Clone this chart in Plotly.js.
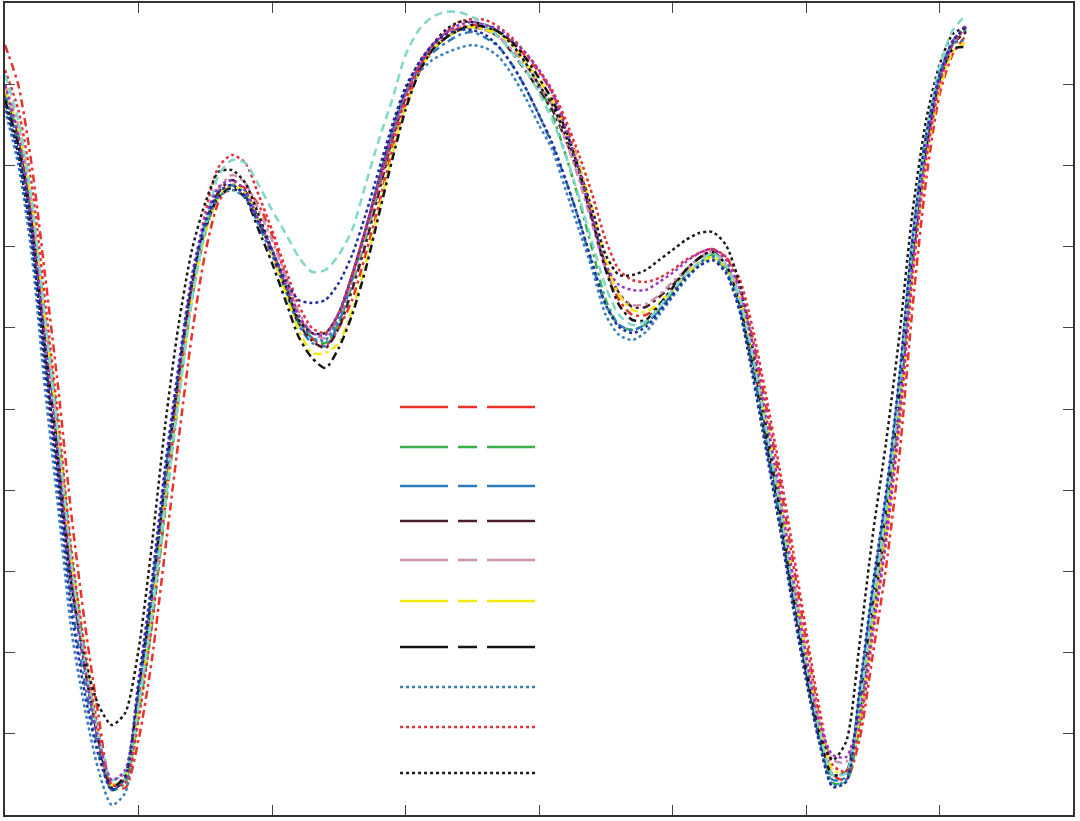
<!DOCTYPE html>
<html><head><meta charset="utf-8">
<script src="https://cdn.plot.ly/plotly-3.0.1.min.js"></script>
<style>html,body{margin:0;padding:0;background:#fff;}#chart{width:1080px;height:821px;}</style>
</head><body><div id="chart"></div>
<script>
const wavelength = [400,405,410,415,420,425,430,435,440,445,450,455,460,465,470,475,480,485,490,495,500,505,510,515,520,525,530,535,540,545,550,555,560,565,570,575,580,585,590,595,600,605,610,615,620,625,630,635,640,645,650,655,660,665,670,675,680,685,690,695,700,705,710,715,720,725,730,735,740,745,750,755,760];

const s1 = [770,730,650,540,425,297,190,100,30,27,75,155,265,375,480,562,613,630,627,610,580,540,500,477,469,487,515,560,610,665,710,742,765,777,787,790,788,783,773,759,743,722,690,650,600,547,515,500,500,510,527,545,557,565,558,529,477,410,338,255,175,97,40,35,75,160,248,360,510,635,720,761,780];
const s2 = [720,680,605,500,385,257,160,80,25,32,100,190,305,415,515,582,620,630,622,595,565,530,495,477,472,492,530,575,625,675,720,747,765,777,785,788,788,783,770,752,730,700,660,615,565,515,490,485,491,505,522,540,552,560,550,517,462,390,315,232,155,87,32,33,90,195,293,410,555,665,735,771,785];
const s3 = [720,670,585,460,340,212,130,65,25,37,125,225,340,442,535,592,623,630,619,590,560,525,490,472,469,492,535,585,635,685,723,747,762,772,780,783,777,768,750,727,700,670,635,595,550,510,490,485,491,505,522,540,552,558,545,509,447,373,298,217,142,77,35,38,115,220,313,432,575,678,740,774,788];
const s4 = [725,680,600,485,370,242,150,75,30,37,115,205,320,425,520,587,623,635,624,595,562,527,492,474,467,487,525,570,622,675,717,747,765,777,785,788,785,778,762,744,725,705,675,640,595,550,522,508,508,518,530,545,557,563,550,517,457,385,310,227,150,82,40,43,105,200,293,410,555,665,735,771,783];
const s5 = [730,690,610,495,375,247,153,80,35,42,110,200,315,420,520,587,626,640,632,605,575,540,503,482,477,497,535,580,630,680,720,750,770,782,788,788,785,778,765,750,730,710,675,635,590,545,520,510,511,520,533,545,557,563,550,522,467,395,322,242,162,94,55,53,100,195,288,405,555,665,735,771,788];
const s6 = [725,685,610,495,380,252,155,80,30,37,105,200,315,420,517,582,618,630,622,595,562,523,485,462,462,472,505,550,605,660,708,742,765,777,785,788,785,781,770,752,735,715,685,650,605,555,520,505,503,512,525,540,552,558,547,517,462,395,320,237,160,90,45,43,95,190,283,400,545,655,725,763,773];
const s7 = [715,670,590,470,355,232,145,75,27,40,125,220,335,438,530,587,618,627,617,585,552,515,478,457,447,467,500,545,600,655,705,742,765,777,785,790,788,783,773,757,737,715,685,645,595,545,510,495,495,510,527,545,557,563,550,512,449,375,300,219,145,77,40,43,115,215,308,425,565,670,735,766,768];
const s8 = [705,650,560,425,305,182,105,45,10,22,120,220,335,440,530,587,618,625,617,592,565,530,495,477,475,497,540,585,635,683,720,742,755,762,767,770,767,758,740,717,690,665,625,585,545,500,480,475,483,500,518,535,549,555,545,509,445,370,295,215,140,74,30,35,120,225,318,435,577,678,740,771,775];
const s9 = [745,705,630,515,395,262,165,85,30,32,95,190,310,425,530,602,648,660,652,620,585,547,510,487,482,502,540,585,630,675,715,747,768,782,793,796,795,788,777,762,745,725,695,660,620,575,545,535,533,537,545,555,562,566,558,537,487,420,348,267,185,107,50,43,85,180,273,390,540,655,730,771,788];
const s10 = [715,660,575,455,340,227,155,110,90,102,165,270,390,490,565,612,643,645,632,600,565,530,495,482,482,502,540,585,635,685,725,752,770,785,793,793,790,783,770,752,730,710,680,645,605,560,540,540,545,555,565,575,582,583,570,532,467,390,310,222,145,82,55,73,170,280,373,480,605,695,750,781,788];
const s11 = [740,695,615,495,375,247,150,80,35,42,110,200,310,415,515,587,640,655,652,630,605,582,558,543,545,560,585,630,675,715,760,785,798,803,803,798,790,778,762,745,722,695,660,618,572,528,500,490,494,508,525,540,553,562,550,518,460,388,312,230,152,85,40,42,110,210,305,425,570,678,748,785,800];
const s12 = [730,680,595,475,355,232,145,75,35,45,135,235,350,450,540,597,628,635,624,595,565,532,500,482,480,502,540,585,633,680,720,750,770,782,790,793,790,786,775,762,745,722,687,645,598,550,530,525,525,533,542,553,562,566,555,527,472,400,325,239,160,92,60,58,100,185,278,400,550,662,735,774,790];
const s13 = [710,660,575,445,325,202,120,60,25,37,130,230,345,445,535,592,623,630,619,592,565,535,515,512,515,532,560,600,645,690,728,752,770,780,785,785,780,768,750,727,700,672,635,595,552,510,488,482,488,503,520,537,549,555,542,505,439,365,290,209,135,72,28,33,125,230,323,440,580,680,740,774,788];

const seriesNames = ["S1","S2","S3","S4","S5","S6","S7","S8","S9","S10","S11","S12","S13"];
const seriesValues = [s1,s2,s3,s4,s5,s6,s7,s8,s9,s10,s11,s12,s13];
const seriesColors = ["#e8322a","#3bae4a","#2b7bba","#4b1e2b","#cc8fae","#f2e80a","#141414","#3580bd","#e0323c","#1a1a1a","#7fd8c8","#9a35c8","#1f2e9e"];
const seriesDash = ["8px,4px,3px,4px","8px,4px,3px,4px","8px,4px,3px,4px","8px,4px,3px,4px","8px,4px,3px,4px","8px,4px,3px,4px","8px,4px,3px,4px","dot","dot","dot","8px,5px","3px,3px","dot"];
const legendDash = ["48px,10px,19px,10px","48px,10px,19px,10px","48px,10px,19px,10px","48px,10px,19px,10px","48px,10px,19px,10px","48px,10px,19px,10px","48px,10px,19px,10px","3px,3px","3px,3px","3px,3px"];

// legend sample rows (paper coordinates) -- layout only
const legendRows = [0.5025,0.4532,0.4052,0.3621,0.3140,0.2635,0.2069,0.1576,0.1084,0.0517];

const traces = seriesValues.map((vals, i) => ({
  x: wavelength, y: vals, name: seriesNames[i], type: 'scatter', mode: 'lines',
  line: {color: seriesColors[i], width: 2.5, dash: seriesDash[i], shape: 'spline', smoothing: 0.7},
  showlegend: false, hoverinfo: 'x+y+name'
}));

const shapes = legendRows.map((yy, k) => ({
  type: 'line', xref: 'paper', yref: 'paper', x0: 0.3699, x1: 0.4963, y0: yy, y1: yy,
  line: {color: seriesColors[k], width: 2.5, dash: legendDash[k]}
}));

const layout = {
  width: 1080, height: 821,
  margin: {l: 5, r: 7, t: 3, b: 6},
  paper_bgcolor: '#ffffff', plot_bgcolor: '#ffffff',
  showlegend: false,
  xaxis: {range: [400, 800], tick0: 400, dtick: 50, ticks: 'inside', ticklen: 10, tickwidth: 1, tickcolor: '#444',
          showticklabels: false, showgrid: false, zeroline: false, showline: true, mirror: 'ticks', linecolor: '#333', linewidth: 2},
  yaxis: {range: [0, 812], tick0: 0, dtick: 81.2, ticks: 'inside', ticklen: 10, tickwidth: 1, tickcolor: '#444',
          showticklabels: false, showgrid: false, zeroline: false, showline: true, mirror: 'ticks', linecolor: '#333', linewidth: 2},
  shapes: shapes
};

Plotly.newPlot('chart', traces, layout, {displayModeBar: false, staticPlot: true});
</script>
</body></html>
